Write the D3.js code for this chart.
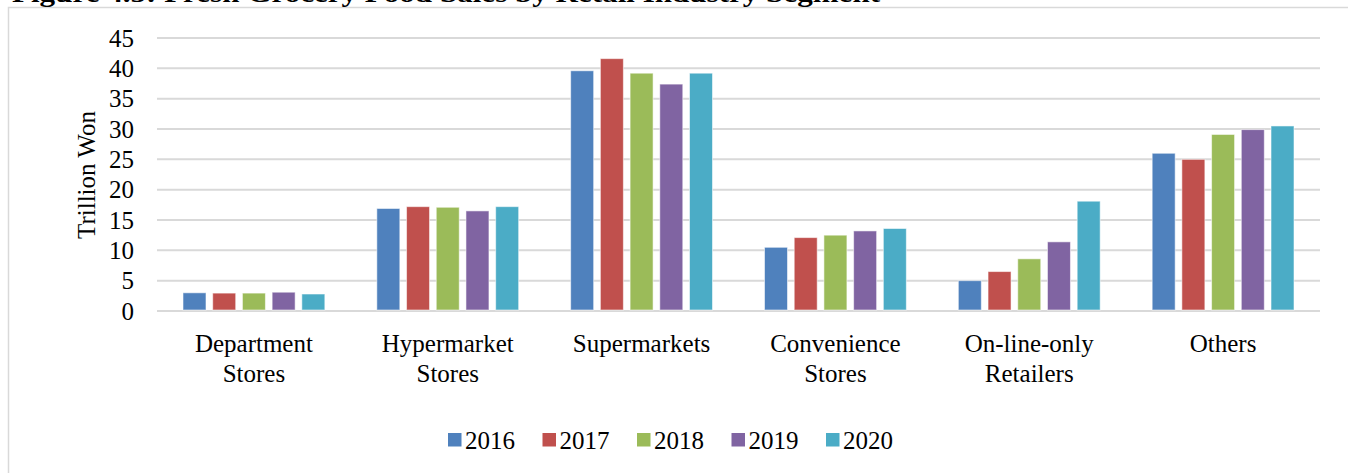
<!DOCTYPE html>
<html>
<head>
<meta charset="utf-8">
<script src="https://cdn.jsdelivr.net/npm/d3@7"></script>
<style>
  body { margin: 0; background: #fff; }
  svg { display: block; font-family: "Liberation Serif", "Times New Roman", serif; }
</style>
</head>
<body>
<div id="chart"></div>
<script>
// data (trillion won)
var categories = [["Department", "Stores"], ["Hypermarket", "Stores"], ["Supermarkets"],
                  ["Convenience", "Stores"], ["On-line-only", "Retailers"], ["Others"]];
var years = ["2016", "2017", "2018", "2019", "2020"];
var sales2016 = [3.0, 16.9, 39.6, 10.5, 5.0, 26.0];
var sales2017 = [2.95, 17.2, 41.6, 12.1, 6.5, 25.0];
var sales2018 = [2.95, 17.1, 39.2, 12.5, 8.6, 29.1];
var sales2019 = [3.1, 16.5, 37.4, 13.2, 11.4, 29.9];
var sales2020 = [2.8, 17.2, 39.2, 13.6, 18.1, 30.5];
var yTicks = [0, 5, 10, 15, 20, 25, 30, 35, 40, 45];
var colors = ["#4F81BD", "#C0504D", "#9BBB59", "#8064A2", "#4BACC6"];

var series = [sales2016, sales2017, sales2018, sales2019, sales2020];

var width = 1348, height = 473;

var svg = d3.select('#chart')
    .append('svg')
    .attr('width', width)
    .attr('height', height);

// chart frame (only top and left edge show)
svg.append('rect')
    .attr('x', 8.5).attr('y', 7.5)
    .attr('width', 1400).attr('height', 500)
    .attr('fill', 'none')
    .attr('stroke', '#d9d9d9')
    .attr('stroke-width', 1.5);

// title, cut off at the top of the picture
svg.append('text')
    .attr('x', 12).attr('y', 1.5)
    .attr('font-weight', 'bold')
    .attr('font-size', 26)
    .attr('textLength', 868)
    .attr('lengthAdjust', 'spacingAndGlyphs')
    .text('Figure 4.5: Fresh Grocery Food Sales by Retail Industry Segment');

var scaleX = d3.scaleBand()
    .domain(d3.range(categories.length))
    .range([157, 1320]);

var scaleYear = d3.scaleBand()
    .domain(years)
    .range([0, scaleX.bandwidth()])
    .paddingInner(0.226)
    .paddingOuter(0.875);

var scaleY = d3.scaleLinear()
    .domain([0, 45])
    .range([311, 38]);

// gridlines
svg.append('g').selectAll('line')
    .data(yTicks)
    .enter().append('line')
    .attr('x1', 157).attr('x2', 1320)
    .attr('y1', function(d){ return scaleY(d); })
    .attr('y2', function(d){ return scaleY(d); })
    .attr('stroke', '#d9d9d9')
    .attr('stroke-width', 2);

// y axis labels
var yAxis = d3.axisLeft(scaleY).tickValues(yTicks).tickSize(0).tickPadding(0);
var yAxisG = svg.append('g')
    .attr('transform', 'translate(134,0)')
    .call(yAxis);
yAxisG.select('.domain').remove();
yAxisG.selectAll('text')
    .attr('font-family', '"Liberation Serif", serif')
    .attr('font-size', 25)
    .attr('fill', '#000');

// y axis title
svg.append('text')
    .attr('transform', 'translate(95,175)rotate(-90)')
    .attr('text-anchor', 'middle')
    .attr('font-size', 25)
    .text('Trillion Won');

// bars
var groups = svg.append('g').selectAll('g')
    .data(series)
    .enter().append('g')
    .attr('fill', function(d, i){ return colors[i]; });

groups.selectAll('rect')
    .data(function(d, i){
        return d.map(function(v, c){ return {cat: c, year: years[i], value: v}; });
    })
    .enter().append('rect')
    .attr('x', function(d){ return scaleX(d.cat) + scaleYear(d.year); })
    .attr('y', function(d){ return scaleY(d.value); })
    .attr('width', scaleYear.bandwidth())
    .attr('height', function(d){ return scaleY(0) - scaleY(d.value) - 1; })
    .attr('stroke', '#ffffff')
    .attr('stroke-opacity', 0.55)
    .attr('stroke-width', 1);

// category labels
var catLabels = svg.append('g').selectAll('text')
    .data(categories)
    .enter().append('text')
    .attr('x', function(d, i){ return scaleX(i) + scaleX.bandwidth() / 2; })
    .attr('y', 352)
    .attr('text-anchor', 'middle')
    .attr('font-size', 25);

catLabels.selectAll('tspan')
    .data(function(d){ return d; })
    .enter().append('tspan')
    .attr('x', function(){ return d3.select(this.parentNode).attr('x'); })
    .attr('dy', function(d, i){ return i === 0 ? 0 : 30; })
    .text(function(d){ return d; });

// legend
var legend = svg.append('g').selectAll('g')
    .data(years)
    .enter().append('g')
    .attr('transform', function(d, i){ return 'translate(' + (448 + i * 94.5) + ',433)'; });

legend.append('rect')
    .attr('width', 13.5).attr('height', 13.5)
    .attr('fill', function(d, i){ return colors[i]; });

legend.append('text')
    .attr('x', 17).attr('y', 16)
    .attr('font-size', 25)
    .text(function(d){ return d; });
</script>
</body>
</html>
